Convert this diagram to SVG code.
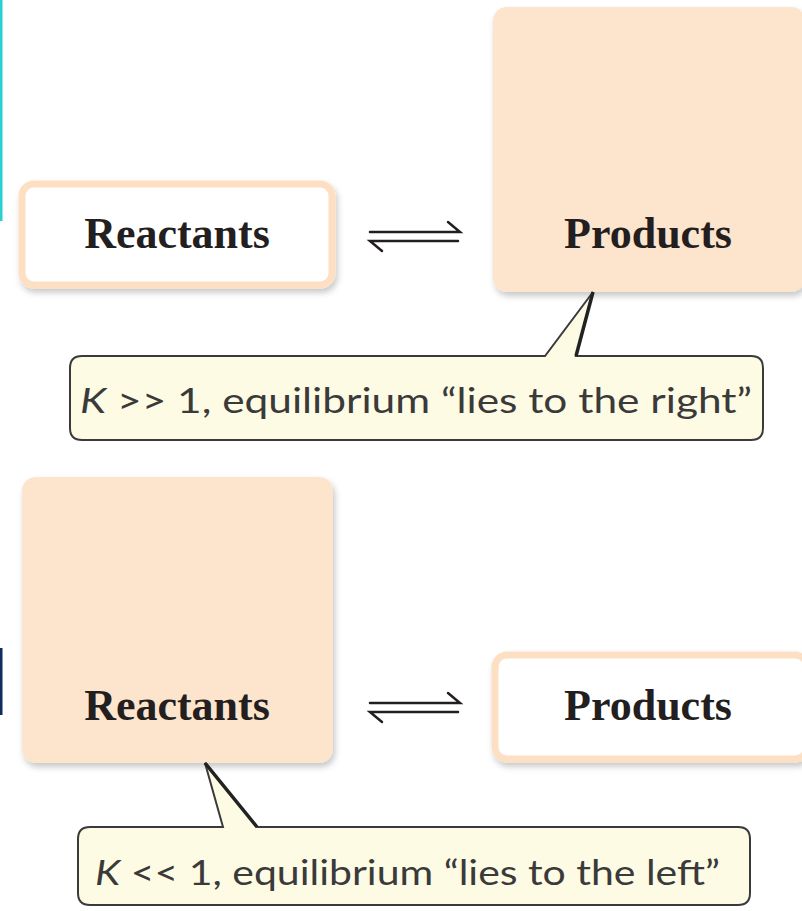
<svg xmlns="http://www.w3.org/2000/svg" width="802" height="911" viewBox="0 0 802 911">
<defs>
<filter id="sh" x="-10%" y="-10%" width="125%" height="125%">
<feDropShadow dx="2" dy="4" stdDeviation="3" flood-color="#000" flood-opacity="0.22"/>
</filter>
<style>
.big{fill:#FDE4CC;}
.small{fill:#FFFFFF;stroke:#FDE0C4;stroke-width:7;}
.lbl{font-family:"Liberation Serif","DejaVu Serif",serif;font-weight:bold;font-size:44px;fill:#231F20;text-anchor:middle;}
.call{fill:#FEFBE4;stroke:#3A3A3A;stroke-width:2;}
.ct{font-family:Lato,"Open Sans","Liberation Sans",sans-serif;font-size:35px;fill:#3A3A3A;}
.eq{stroke:#231F20;stroke-width:2.5;fill:none;stroke-linecap:round;}
</style>
</defs>
<rect width="802" height="911" fill="#FFFFFF"/>
<rect x="0" y="0" width="2.5" height="221" fill="#2CCFD1"/>
<rect x="0" y="648" width="2.5" height="67" fill="#0E2D5C"/>

<g id="top-reactants">
<rect class="small" x="22" y="184" width="310" height="101" rx="12" filter="url(#sh)"/>
<text class="lbl" x="177" y="248">Reactants</text>
</g>
<g id="top-products">
<rect class="big" x="493" y="7" width="312" height="285" rx="14" filter="url(#sh)"/>
<text class="lbl" x="648" y="248">Products</text>
</g>
<g id="callout-right">
<path class="call" d="M 82 356 L 545 356 L 593 292 L 576 356 L 751 356 Q 763 356 763 368 L 763 428 Q 763 440 751 440 L 82 440 Q 70 440 70 428 L 70 368 Q 70 356 82 356 Z"/>
<path d="M 593 292 L 576 356" stroke="#222" stroke-width="3.5" fill="none"/>
<text class="ct" x="80" y="413" textLength="672" lengthAdjust="spacingAndGlyphs"><tspan font-style="italic">K</tspan> &gt;&gt; 1, equilibrium “lies to the right”</text>
</g>

<g id="bottom-reactants">
<rect class="big" x="22" y="477" width="311" height="286" rx="14" filter="url(#sh)"/>
<text class="lbl" x="177" y="720">Reactants</text>
</g>
<g id="bottom-products">
<rect class="small" x="495" y="655" width="312" height="104" rx="12" filter="url(#sh)"/>
<text class="lbl" x="648" y="720">Products</text>
</g>
<g id="callout-left">
<path class="call" d="M 90 827 L 223 827 L 205 763 L 257 827 L 738 827 Q 750 827 750 839 L 750 893 Q 750 905 738 905 L 90 905 Q 78 905 78 893 L 78 839 Q 78 827 90 827 Z"/>
<path d="M 205 763 L 257 827" stroke="#222" stroke-width="3.5" fill="none"/>
<text class="ct" x="95" y="885" textLength="625" lengthAdjust="spacingAndGlyphs"><tspan font-style="italic">K</tspan> &lt;&lt; 1, equilibrium “lies to the left”</text>
</g>

<g id="connectors">
<path class="eq" d="M 370 232 L 460 232 L 448 222"/>
<path class="eq" d="M 458 241 L 370 241 L 382 251"/>
<path class="eq" d="M 370 703 L 460 703 L 448 693"/>
<path class="eq" d="M 458 712 L 370 712 L 382 722"/>
</g>
</svg>
